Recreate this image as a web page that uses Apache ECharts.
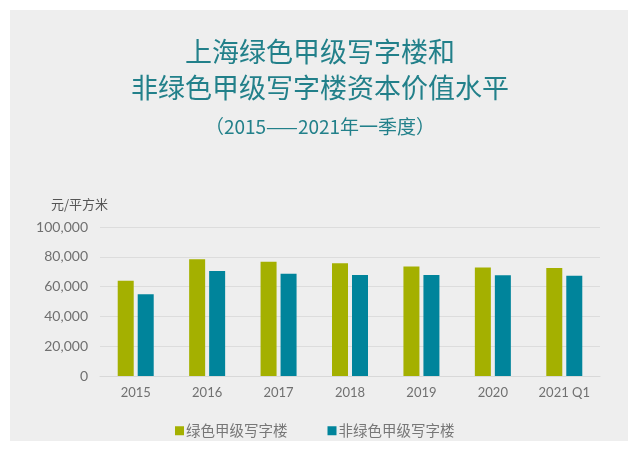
<!DOCTYPE html>
<html><head><meta charset="utf-8">
<script src="https://cdn.jsdelivr.net/npm/echarts@6/dist/echarts.min.js"></script>
<style>html,body{margin:0;padding:0;background:#fff;}#c{width:640px;height:452px;}</style>
</head><body><div id="c"></div>
<script>
const categories = ['2015','2016','2017','2018','2019','2020','2021 Q1'];
const greenValues = [64000, 78300, 76700, 75700, 73500, 72800, 72400];
const nonGreenValues = [54800, 70500, 68600, 67800, 67800, 67600, 67200];
const seriesNames = ['绿色甲级写字楼', '非绿色甲级写字楼'];
const titleLines = ['上海绿色甲级写字楼和', '非绿色甲级写字楼资本价值水平', '（2015——2021年一季度）'];
const yUnit = '元/平方米';

const chart = echarts.init(document.getElementById('c'), null, {renderer:'canvas'});
const titleColor = '#22808a';
chart.setOption({
  backgroundColor: '#ffffff',
  graphic: [
    {type:'rect', shape:{x:10,y:10,width:618,height:431}, style:{fill:'#eeeeee'}, z:-10},
    {type:'text', left:'center', top:38, style:{text:titleLines[0], fill:titleColor, font:'normal 27px "Noto Sans CJK SC"'}},
    {type:'text', left:'center', top:74, style:{text:titleLines[1], fill:titleColor, font:'normal 27px "Noto Sans CJK SC"'}},
    {type:'text', left:'center', top:117, style:{text:titleLines[2], fill:titleColor, font:'normal 19px "Noto Sans CJK SC"'}}
  ],
  grid: {left:100, right:40, top:227, bottom:452-376},
  legend: {
    bottom: 9, left: 170,
    itemWidth: 9, itemHeight: 9, itemGap: 40,
    icon: 'rect',
    textStyle: {color:'#777', fontSize:14.5, fontFamily:'"Noto Sans CJK SC"', padding:[0,0,0,-3]},
    data: seriesNames
  },
  xAxis: {
    type:'category', data: categories,
    axisLine:{show:true, lineStyle:{color:'#d8d8d8'}},
    axisTick:{show:false},
    axisLabel:{color:'#707070', fontSize:13, margin:10, fontFamily:'Lato'}
  },
  yAxis: {
    type:'value', min:0, max:100000, interval:20000,
    name: yUnit, nameLocation:'end', nameGap:16,
    nameTextStyle:{color:'#555', fontSize:13, align:'right', padding:[0,-8,0,0], fontFamily:'"Noto Sans CJK SC"'},
    axisLine:{show:false}, axisTick:{show:false},
    splitLine:{lineStyle:{color:'#dcdcdc'}},
    axisLabel:{color:'#707070', fontSize:14, margin:12, fontFamily:'Lato',
      formatter: v => v.toLocaleString('en-US')}
  },
  series: [
    {name:seriesNames[0], type:'bar', data:greenValues, barWidth:16, barGap:'25%', itemStyle:{color:'#a4b000'}},
    {name:seriesNames[1], type:'bar', data:nonGreenValues, barWidth:16, itemStyle:{color:'#00849b'}}
  ]
});
</script></body></html>
